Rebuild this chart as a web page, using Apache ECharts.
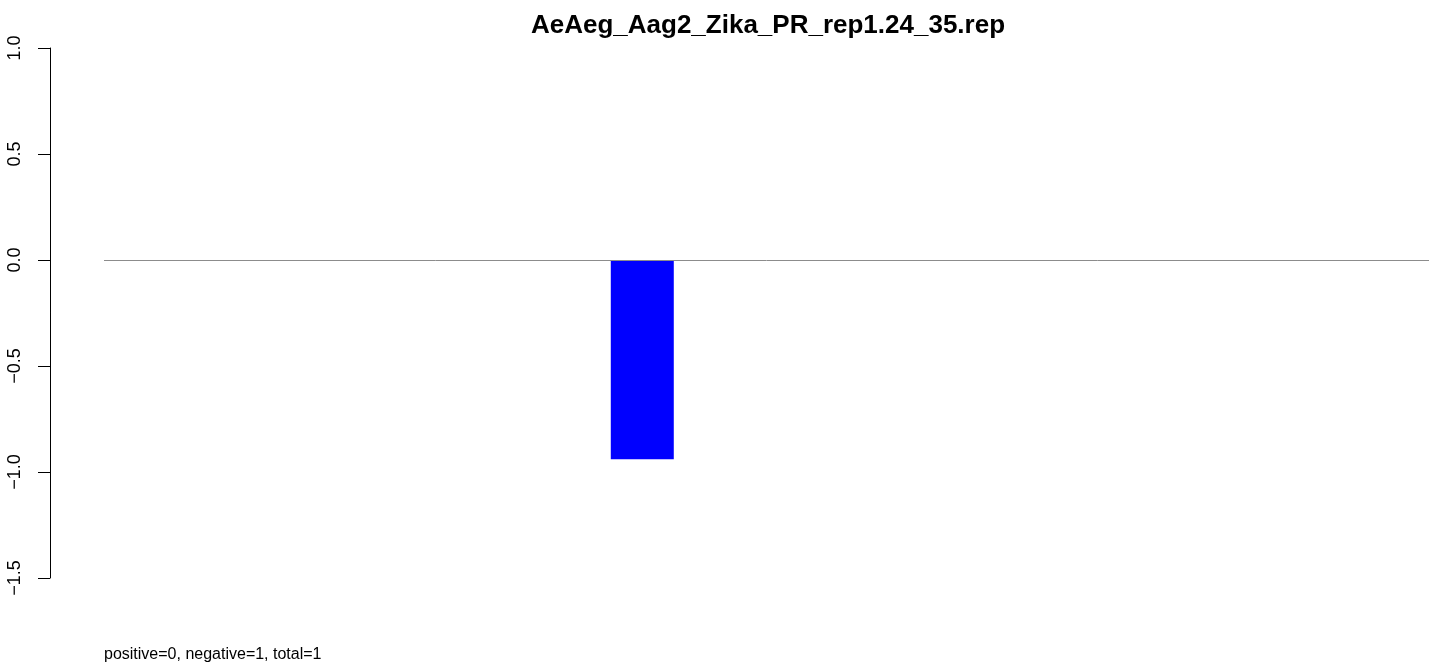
<!DOCTYPE html>
<html>
<head>
<meta charset="utf-8">
<script src="https://cdn.jsdelivr.net/npm/echarts@6/dist/echarts.min.js"></script>
<style>
  html, body { margin: 0; padding: 0; background: #fff; }
  #chart { width: 1429px; height: 664px; }
</style>
</head>
<body>
<div id="chart"></div>
<script>
// Read counts per position: one negative read, no positive reads.
const positions = ['1', '2', '3', '4', '5', '6', '7', '8', '9', '10', '11', '12', '13', '14', '15', '16'];
const readValues = [null, null, null, null, null, null, -0.94, null, null, null, null, null, null, null, null, null];
const yTicks = { min: -1.5, max: 1.0, step: 0.5 };
const titleText = 'AeAeg_Aag2_Zika_PR_rep1.24_35.rep';
const footText = 'positive=0, negative=1, total=1';

const chart = echarts.init(document.getElementById('chart'), null, { renderer: 'canvas' });
const font = '"Liberation Sans", Arial, sans-serif';

chart.setOption({
  animation: false,
  backgroundColor: '#ffffff',
  grid: { left: 104, right: 0, top: 48, bottom: 86, containLabel: false },
  xAxis: {
    type: 'category',
    data: positions,
    show: false,
    boundaryGap: true
  },
  yAxis: {
    type: 'value',
    min: yTicks.min,
    max: yTicks.max,
    interval: yTicks.step,
    offset: 54,
    axisLine: { show: true, lineStyle: { color: '#000', width: 1 } },
    axisTick: { show: true, inside: false, length: 12, lineStyle: { color: '#000', width: 1 } },
    splitLine: { show: false },
    axisLabel: {
      rotate: 90,
      margin: 26,
      color: '#000',
      fontSize: 18,
      fontFamily: font,
      formatter: v => v.toFixed(1).replace('-', '\u2212')
    }
  },
  series: [{
    type: 'bar',
    data: readValues,
    barWidth: 63,
    itemStyle: { color: '#0000ff' },
    markLine: {
      silent: true,
      symbol: ['none', 'none'],
      label: { show: false },
      lineStyle: { color: '#8c8c8c', width: 1, type: 'solid' },
      data: [{ yAxis: 0 }]
    }
  }],
  graphic: [
    {
      type: 'text',
      x: 768,
      y: 26,
      style: {
        text: titleText,
        font: 'bold 26px ' + font,
        fill: '#000',
        textAlign: 'center',
        textVerticalAlign: 'middle'
      }
    },
    {
      type: 'text',
      x: 104,
      y: 655,
      style: {
        text: footText,
        font: '16px ' + font,
        fill: '#000',
        textAlign: 'left',
        textVerticalAlign: 'middle'
      }
    }
  ]
});
</script>
</body>
</html>
